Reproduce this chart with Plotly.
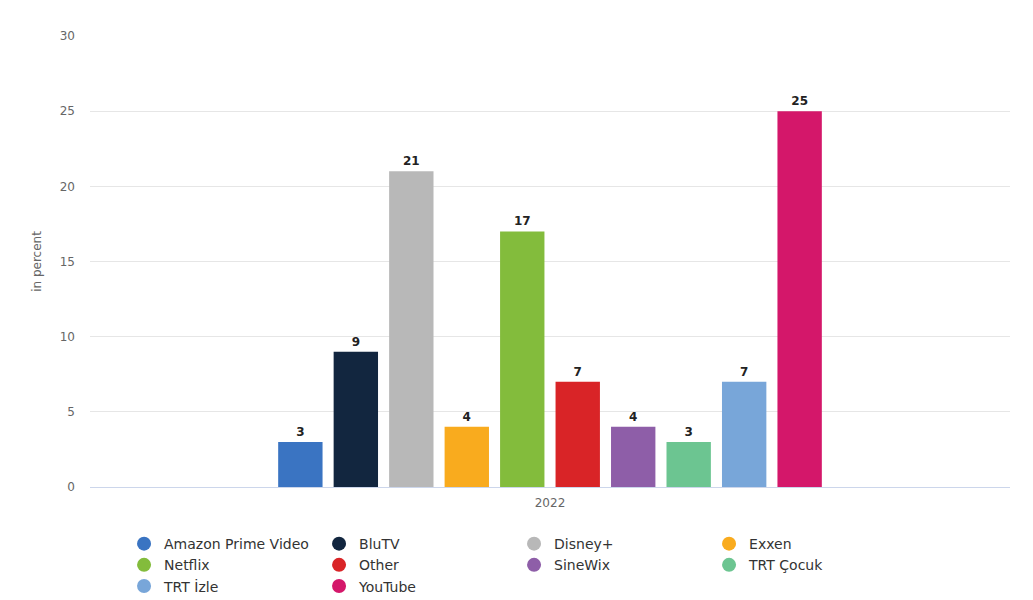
import plotly.graph_objects as go

categories = ["2022"]
services = ["Amazon Prime Video", "BluTV", "Disney+", "Exxen", "Netflix",
            "Other", "SineWix", "TRT Çocuk", "TRT İzle", "YouTube"]
values = [3, 9, 21, 4, 17, 7, 4, 3, 7, 25]
colors = ["#3a74c2", "#12263f", "#b8b8b8", "#f9ab1e", "#83bc3c",
          "#d92427", "#8e5ea8", "#6cc591", "#78a6d9", "#d4176a"]
y_ticks = [0, 5, 10, 15, 20, 25, 30]

fig = go.Figure()
for name, val, col in zip(services, values, colors):
    fig.add_trace(go.Bar(
        x=categories, y=[val], name=name, marker_color=col,
        marker_line_width=0, showlegend=False,
        text=[val], texttemplate="<b>%{y}</b>", textposition="outside",
        textfont=dict(family="DejaVu Sans", size=12, color="#222"),
        cliponaxis=False,
    ))
for name, col in zip(services, colors):
    fig.add_trace(go.Scatter(
        x=[None], y=[None], mode="markers", name=name,
        marker=dict(symbol="circle", size=14, color=col),
        showlegend=True,
    ))

fig.update_layout(
    width=1025, height=592,
    margin=dict(l=82, r=23, t=28, b=113, autoexpand=False),
    paper_bgcolor="white", plot_bgcolor="white",
    barmode="group", bargap=0.397, bargroupgap=0.2,
    font=dict(family="DejaVu Sans", color="#666"),
    xaxis=dict(
        type="category", range=[-0.5, 0.5], automargin=False,
        showline=True, linecolor="#ccd6eb", linewidth=1,
        showgrid=False, ticks="", tickfont=dict(size=12, color="#666"),
        ticklabelstandoff=5,
    ),
    yaxis=dict(
        range=[0, 30], tickvals=y_ticks, showgrid=True, gridcolor="#e6e6e6",
        zeroline=False, showline=False, ticks="", automargin=False,
        tickfont=dict(size=12, color="#666"), ticklabelstandoff=14,
        title=dict(text="in percent", font=dict(size=12, color="#666"), standoff=15),
    ),
    legend=dict(
        orientation="h", x=0.037, xanchor="left", y=-0.091, yanchor="top",
        entrywidth=150, entrywidthmode="pixels", itemwidth=30,
        font=dict(family="DejaVu Sans", size=14, color="#333"),
        itemclick=False, tracegroupgap=0,
    ),
)

fig.write_html("out.html")
